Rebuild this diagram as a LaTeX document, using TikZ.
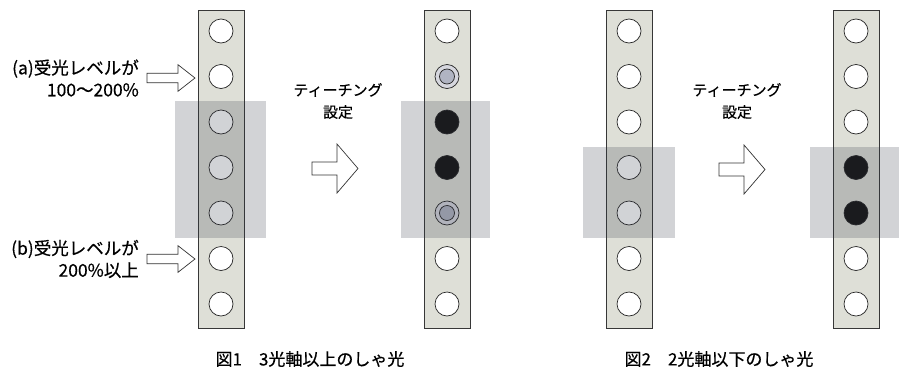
\documentclass[tikz,border=0pt]{standalone}
\usepackage{fontspec}
\setmainfont[FakeBold=0.5]{Noto Sans CJK JP}
\definecolor{barfill}{RGB}{222,223,215}
\definecolor{barline}{RGB}{55,55,55}
\definecolor{shade}{RGB}{50,55,70}
\definecolor{ringfill}{RGB}{214,215,222}
\definecolor{innerfill}{RGB}{176,180,194}
\begin{document}
\begin{tikzpicture}[x=1pt,y=-1pt,
  bar/.style={draw=barline, fill=barfill, line width=0.9pt},
  hole/.style={circle, draw=black!85, fill=white, line width=0.7pt, minimum size=24pt, inner sep=0pt},
  lit/.style={hole, fill=black!92},
  half/.style={hole, fill=ringfill},
  core/.style={circle, draw=black!85, fill=innerfill, line width=0.7pt, minimum size=15pt, inner sep=0pt},
  shadebox/.style={fill=shade, fill opacity=0.22},
  harrow/.style={draw=black!80, fill=white, line width=0.7pt, line join=miter},
  lbl/.style={font=\fontsize{17.5}{22}\selectfont, align=right, inner sep=0pt},
  teach/.style={font=\fontsize{15}{22}\selectfont, align=center, inner sep=0pt},
  capt/.style={font=\fontsize{17}{20}\selectfont, inner sep=0pt},
  bigarrow/.pic={\draw[harrow] (0,-6.5) -- (25,-6.5) -- (25,-24.5) -- (46,0) -- (25,24.5) -- (25,6.5) -- (0,6.5) -- cycle;},
  smallarrow/.pic={\draw[harrow] (0,-4.7) -- (31,-4.7) -- (31,-13.3) -- (48,0) -- (31,13.3) -- (31,4.7) -- (0,4.7) -- cycle;}
]
\useasboundingbox (0,0) rectangle (899,370);

% bars
\foreach \bx in {221,447,629,856}{
  \draw[bar] (\bx-23,10) rectangle (\bx+23,328);
}

% figure 1 left column
\foreach \i in {0,...,6}{
  \node[hole] (A\i) at (221,31+45.5*\i) {};
}
% figure 1 right column
\node[hole] (B0) at (447,31) {};
\node[half] (B1) at (447,76.5) {};
\node[core] (B1c) at (447,76.5) {};
\node[lit]  (B2) at (447,122) {};
\node[lit]  (B3) at (447,167.5) {};
\node[half] (B4) at (447,213) {};
\node[core] (B4c) at (447,213) {};
\node[hole] (B5) at (447,258.5) {};
\node[hole] (B6) at (447,304) {};

% figure 2 left column
\foreach \i in {0,...,6}{
  \node[hole] (C\i) at (629,31+45.5*\i) {};
}
% figure 2 right column
\foreach \i in {0,1,2,5,6}{
  \node[hole] (D\i) at (856,31+45.5*\i) {};
}
\node[lit] (D3) at (856,167.5) {};
\node[lit] (D4) at (856,213) {};

% shaded zones
\fill[shadebox] (175,101) rectangle (266,238);
\fill[shadebox] (401,101) rectangle (490,238);
\fill[shadebox] (583,147) rectangle (675,238);
\fill[shadebox] (810,147) rectangle (902,238);

% arrows
\pic at (147,78) {smallarrow};
\pic at (147,259) {smallarrow};
\pic at (312,168.5) {bigarrow};
\pic at (719,169.5) {bigarrow};

% labels
\node[lbl, anchor=east] (la) at (139,78) {(a)受光レベルが\\100〜200\%};
\node[lbl, anchor=east] (lb) at (139,259) {(b)受光レベルが\\200\%以上};
\node[teach] (t1) at (338,101) {ティーチング\\設定};
\node[teach] (t2) at (737,101) {ティーチング\\設定};
\node[capt] (c1) at (310,359) {図1　3光軸以上のしゃ光};
\node[capt] (c2) at (719,359) {図2　2光軸以下のしゃ光};
\end{tikzpicture}
\end{document}
